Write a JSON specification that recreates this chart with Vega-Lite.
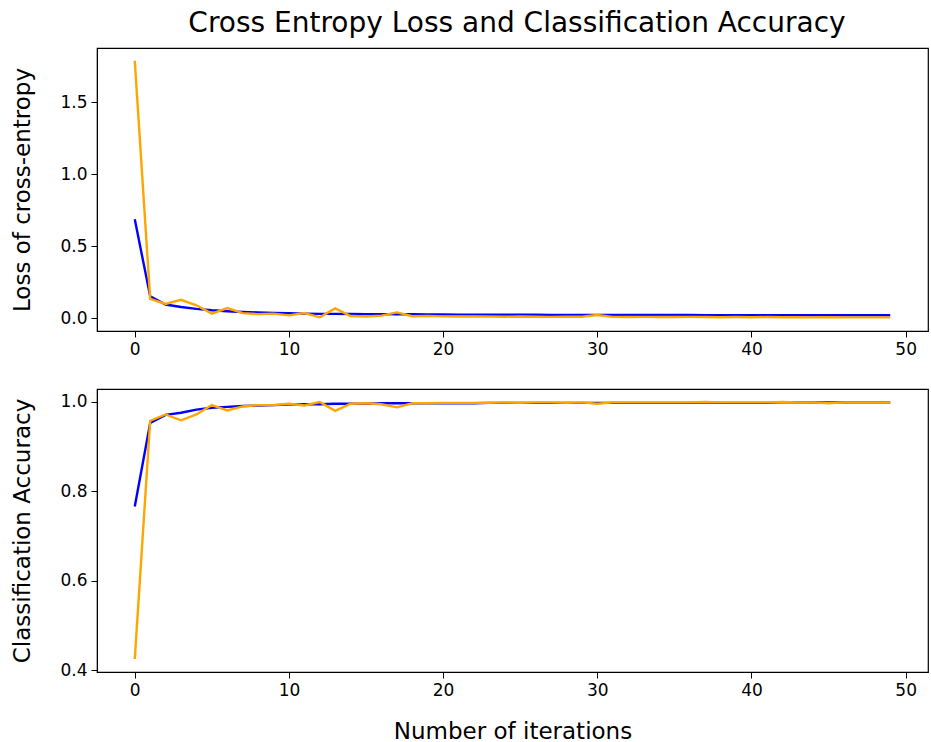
{
  "$schema": "https://vega.github.io/schema/vega-lite/v6.json",
  "background": "white",
  "padding": {"left": 11, "top": 10, "right": 0, "bottom": 0},
  "title": {"text": "Cross Entropy Loss and Classification Accuracy", "fontSize": 28, "fontWeight": "normal", "font": "DejaVu Sans", "color": "black", "offset": 9, "anchor": "middle", "dx": 47},
  "config": {
    "font": "DejaVu Sans",
    "view": {"stroke": "black", "strokeWidth": 1.2},
    "axis": {"grid": false, "domainColor": "black", "tickColor": "black", "labelColor": "black", "titleColor": "black", "labelFontSize": 17, "titleFontSize": 23, "titleFontWeight": "normal", "tickSize": 6, "labelPadding": 4, "labelFont": "DejaVu Sans", "titleFont": "DejaVu Sans"}
  },
  "datasets": {
    "d": [
      {"iter":0,"series":"train","loss":0.687,"acc":0.766},{"iter":0,"series":"val","loss":1.789,"acc":0.425},
      {"iter":1,"series":"train","loss":0.152,"acc":0.953},{"iter":1,"series":"val","loss":0.134,"acc":0.958},
      {"iter":2,"series":"train","loss":0.095,"acc":0.971},{"iter":2,"series":"val","loss":0.099,"acc":0.972},
      {"iter":3,"series":"train","loss":0.078,"acc":0.976},{"iter":3,"series":"val","loss":0.128,"acc":0.959},
      {"iter":4,"series":"train","loss":0.065,"acc":0.983},{"iter":4,"series":"val","loss":0.090,"acc":0.972},
      {"iter":5,"series":"train","loss":0.055,"acc":0.987},{"iter":5,"series":"val","loss":0.032,"acc":0.993},
      {"iter":6,"series":"train","loss":0.048,"acc":0.989},{"iter":6,"series":"val","loss":0.070,"acc":0.981},
      {"iter":7,"series":"train","loss":0.043,"acc":0.991},{"iter":7,"series":"val","loss":0.035,"acc":0.990},
      {"iter":8,"series":"train","loss":0.040,"acc":0.992},{"iter":8,"series":"val","loss":0.028,"acc":0.993},
      {"iter":9,"series":"train","loss":0.037,"acc":0.993},{"iter":9,"series":"val","loss":0.032,"acc":0.993},
      {"iter":10,"series":"train","loss":0.034,"acc":0.994},{"iter":10,"series":"val","loss":0.020,"acc":0.996},
      {"iter":11,"series":"train","loss":0.032,"acc":0.995},{"iter":11,"series":"val","loss":0.036,"acc":0.992},
      {"iter":12,"series":"train","loss":0.030,"acc":0.995},{"iter":12,"series":"val","loss":0.006,"acc":1.0},
      {"iter":13,"series":"train","loss":0.030,"acc":0.996},{"iter":13,"series":"val","loss":0.068,"acc":0.980},
      {"iter":14,"series":"train","loss":0.029,"acc":0.996},{"iter":14,"series":"val","loss":0.015,"acc":0.996},
      {"iter":15,"series":"train","loss":0.028,"acc":0.996},{"iter":15,"series":"val","loss":0.012,"acc":0.997},
      {"iter":16,"series":"train","loss":0.028,"acc":0.997},{"iter":16,"series":"val","loss":0.018,"acc":0.995},
      {"iter":17,"series":"train","loss":0.027,"acc":0.997},{"iter":17,"series":"val","loss":0.040,"acc":0.988},
      {"iter":18,"series":"train","loss":0.027,"acc":0.997},{"iter":18,"series":"val","loss":0.014,"acc":0.997},
      {"iter":19,"series":"train","loss":0.026,"acc":0.997},{"iter":19,"series":"val","loss":0.016,"acc":0.997},
      {"iter":20,"series":"train","loss":0.026,"acc":0.997},{"iter":20,"series":"val","loss":0.013,"acc":0.998},
      {"iter":21,"series":"train","loss":0.025,"acc":0.997},{"iter":21,"series":"val","loss":0.012,"acc":0.998},
      {"iter":22,"series":"train","loss":0.025,"acc":0.997},{"iter":22,"series":"val","loss":0.012,"acc":0.998},
      {"iter":23,"series":"train","loss":0.025,"acc":0.998},{"iter":23,"series":"val","loss":0.011,"acc":0.998},
      {"iter":24,"series":"train","loss":0.024,"acc":0.998},{"iter":24,"series":"val","loss":0.010,"acc":0.999},
      {"iter":25,"series":"train","loss":0.024,"acc":0.998},{"iter":25,"series":"val","loss":0.012,"acc":0.998},
      {"iter":26,"series":"train","loss":0.024,"acc":0.998},{"iter":26,"series":"val","loss":0.010,"acc":0.999},
      {"iter":27,"series":"train","loss":0.023,"acc":0.998},{"iter":27,"series":"val","loss":0.009,"acc":0.999},
      {"iter":28,"series":"train","loss":0.023,"acc":0.998},{"iter":28,"series":"val","loss":0.011,"acc":0.998},
      {"iter":29,"series":"train","loss":0.023,"acc":0.998},{"iter":29,"series":"val","loss":0.010,"acc":0.999},
      {"iter":30,"series":"train","loss":0.023,"acc":0.998},{"iter":30,"series":"val","loss":0.022,"acc":0.996},
      {"iter":31,"series":"train","loss":0.023,"acc":0.998},{"iter":31,"series":"val","loss":0.009,"acc":0.999},
      {"iter":32,"series":"train","loss":0.022,"acc":0.998},{"iter":32,"series":"val","loss":0.008,"acc":0.999},
      {"iter":33,"series":"train","loss":0.022,"acc":0.998},{"iter":33,"series":"val","loss":0.009,"acc":0.999},
      {"iter":34,"series":"train","loss":0.022,"acc":0.998},{"iter":34,"series":"val","loss":0.008,"acc":0.999},
      {"iter":35,"series":"train","loss":0.022,"acc":0.998},{"iter":35,"series":"val","loss":0.008,"acc":0.999},
      {"iter":36,"series":"train","loss":0.022,"acc":0.998},{"iter":36,"series":"val","loss":0.009,"acc":0.999},
      {"iter":37,"series":"train","loss":0.021,"acc":0.998},{"iter":37,"series":"val","loss":0.008,"acc":1.0},
      {"iter":38,"series":"train","loss":0.021,"acc":0.998},{"iter":38,"series":"val","loss":0.007,"acc":0.999},
      {"iter":39,"series":"train","loss":0.021,"acc":0.998},{"iter":39,"series":"val","loss":0.008,"acc":0.999},
      {"iter":40,"series":"train","loss":0.021,"acc":0.998},{"iter":40,"series":"val","loss":0.007,"acc":0.999},
      {"iter":41,"series":"train","loss":0.021,"acc":0.998},{"iter":41,"series":"val","loss":0.008,"acc":0.999},
      {"iter":42,"series":"train","loss":0.021,"acc":0.999},{"iter":42,"series":"val","loss":0.007,"acc":1.0},
      {"iter":43,"series":"train","loss":0.021,"acc":0.999},{"iter":43,"series":"val","loss":0.007,"acc":0.999},
      {"iter":44,"series":"train","loss":0.020,"acc":0.999},{"iter":44,"series":"val","loss":0.006,"acc":0.999},
      {"iter":45,"series":"train","loss":0.020,"acc":0.999},{"iter":45,"series":"val","loss":0.007,"acc":0.997},
      {"iter":46,"series":"train","loss":0.020,"acc":0.999},{"iter":46,"series":"val","loss":0.006,"acc":0.999},
      {"iter":47,"series":"train","loss":0.020,"acc":0.999},{"iter":47,"series":"val","loss":0.006,"acc":0.999},
      {"iter":48,"series":"train","loss":0.020,"acc":0.999},{"iter":48,"series":"val","loss":0.006,"acc":0.999},
      {"iter":49,"series":"train","loss":0.020,"acc":0.999},{"iter":49,"series":"val","loss":0.006,"acc":0.999}
    ]
  },
  "data": {"name": "d"},
  "vconcat": [
    {
      "width": 831, "height": 283,
      "mark": {"type": "line", "strokeWidth": 2.4, "clip": true},
      "encoding": {
        "x": {"field": "iter", "type": "quantitative", "scale": {"domain": [-2.45, 51.45], "nice": false, "zero": false}, "axis": {"title": null, "values": [0,10,20,30,40,50], "format": "d"}},
        "y": {"field": "loss", "type": "quantitative", "scale": {"domain": [-0.089, 1.878], "nice": false, "zero": false}, "axis": {"title": "Loss of cross-entropy", "values": [0,0.5,1.0,1.5], "format": ".1f", "titlePadding": 25}},
        "color": {"field": "series", "type": "nominal", "scale": {"domain": ["train","val"], "range": ["#0000ff","#ffa500"]}, "legend": null},
        "order": {"field": "series"}
      }
    },
    {
      "width": 831, "height": 283,
      "mark": {"type": "line", "strokeWidth": 2.4, "clip": true},
      "encoding": {
        "x": {"field": "iter", "type": "quantitative", "scale": {"domain": [-2.45, 51.45], "nice": false, "zero": false}, "axis": {"title": "Number of iterations", "values": [0,10,20,30,40,50], "format": "d", "titlePadding": 22}},
        "y": {"field": "acc", "type": "quantitative", "scale": {"domain": [0.396, 1.029], "nice": false, "zero": false}, "axis": {"title": "Classification Accuracy", "values": [0.4,0.6,0.8,1.0], "format": ".1f", "titlePadding": 25}},
        "color": {"field": "series", "type": "nominal", "scale": {"domain": ["train","val"], "range": ["#0000ff","#ffa500"]}, "legend": null},
        "order": {"field": "series"}
      }
    }
  ],
  "spacing": 58,
  "bounds": "flush"
}
